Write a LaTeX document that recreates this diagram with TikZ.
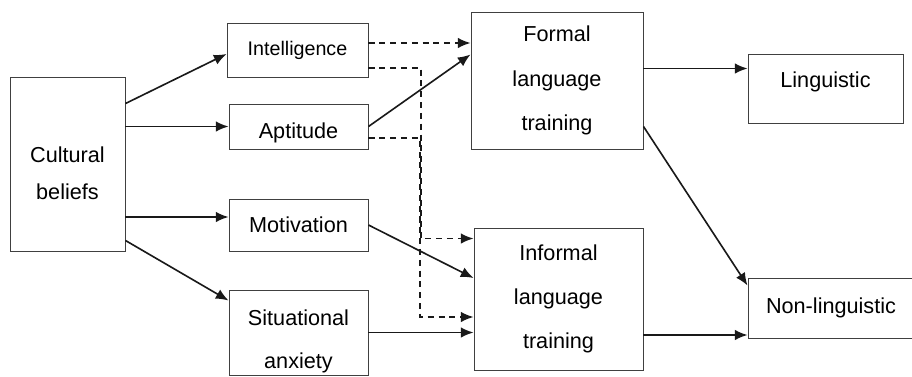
\documentclass[tikz,border=0pt]{standalone}
\usepackage{fontspec}
\setmainfont{Liberation Sans}
\usetikzlibrary{arrows.meta,positioning,calc}

\begin{document}
\begin{tikzpicture}[%
    every node/.style={draw=black!75, line width=0.7pt, rectangle, inner sep=0pt, align=center,
        font=\fontsize{15.4}{18.5}\selectfont},
    link/.style={-{Latex[length=9pt,width=7.5pt]}, line width=1.15pt, draw=black!90},
    dashlink/.style={link, dash pattern=on 4.3pt off 3.4pt}]
    \useasboundingbox (0,0) rectangle (22.8,-9.4);

    \node[minimum width=2.875cm, minimum height=4.35cm] (Beliefs) at (1.6875,-4.1)
        {\rule{0pt}{24pt}Cultural\\[7.8pt]beliefs};
    \node[minimum width=3.525cm, minimum height=1.35cm, font=\fontsize{14}{17}\selectfont] (Intel) at (7.4375,-1.25) {Intelligence};
    \node[minimum width=3.475cm, minimum height=1.125cm, text height=20pt, text depth=3.3pt] (Aptitude) at (7.4625,-3.1625) {Aptitude};
    \node[minimum width=3.475cm, minimum height=1.3cm] (Motiv) at (7.4625,-5.625) {Motivation};
    \node[minimum width=3.475cm, minimum height=2.125cm] (Anxiety) at (7.4625,-8.3125)
        {\rule{0pt}{24pt}Situational\\[12pt]anxiety};
    \node[minimum width=4.3cm, minimum height=3.425cm] (Formal) at (13.925,-2.0125)
        {Formal\\[13pt]language\\[13pt]training};
    \node[minimum width=4.225cm, minimum height=3.55cm] (Informal) at (13.9625,-7.475)
        {Informal\\[13pt]language\\[13pt]training};
    \node[minimum width=3.875cm, minimum height=1.725cm, text depth=12pt] (Ling) at (20.6375,-2.2125) {Linguistic};
    \node[minimum width=4.15cm, minimum height=1.5cm] (NonLing) at (20.775,-7.7) {Non-linguistic};

    \coordinate (bendA) at (10.525,0);
    \coordinate (bendB) at (10.5,0);

    \draw[link] ([yshift=-0.675cm]Beliefs.north east) -- ([yshift=-0.1cm]Intel.west);
    \draw[link] (Aptitude.west -| Beliefs.east) -- (Aptitude.west);
    \draw[link] ([yshift=0.2cm]Motiv.west -| Beliefs.east) -- ([yshift=0.2cm]Motiv.west);
    \draw[link] ([yshift=0.275cm]Beliefs.south east) -- ([yshift=-0.275cm]Anxiety.north west);

    \draw[link] (Aptitude.east) -- ([yshift=-1.075cm]Formal.north west);
    \draw[dashlink] ([yshift=0.175cm]Intel.east) -- ([yshift=0.175cm]Intel.east -| Formal.west);
    \draw[dashlink] ([yshift=-0.45cm]Intel.east) -- ([yshift=-0.45cm]Intel.east -| bendA)
        |- ([yshift=-0.275cm]Informal.north west);
    \draw[dashlink] ([yshift=-0.29cm]Aptitude.east) -- ([yshift=-0.29cm]Aptitude.east -| bendB)
        |- ([yshift=-0.45cm]Informal.west);
    \draw[link] (Motiv.east) -- ([yshift=0.525cm]Informal.west);
    \draw[link] (Anxiety.east) -- (Anxiety.east -| Informal.west);

    \draw[link] ([yshift=0.5cm]Ling.west -| Formal.east) -- ([yshift=0.5cm]Ling.west);
    \draw[link] ([yshift=0.575cm]Formal.south east) -- ([yshift=-0.2cm]NonLing.north west);
    \draw[link] ([yshift=-0.675cm]NonLing.west -| Informal.east) -- ([yshift=-0.675cm]NonLing.west);
\end{tikzpicture}
\end{document}
